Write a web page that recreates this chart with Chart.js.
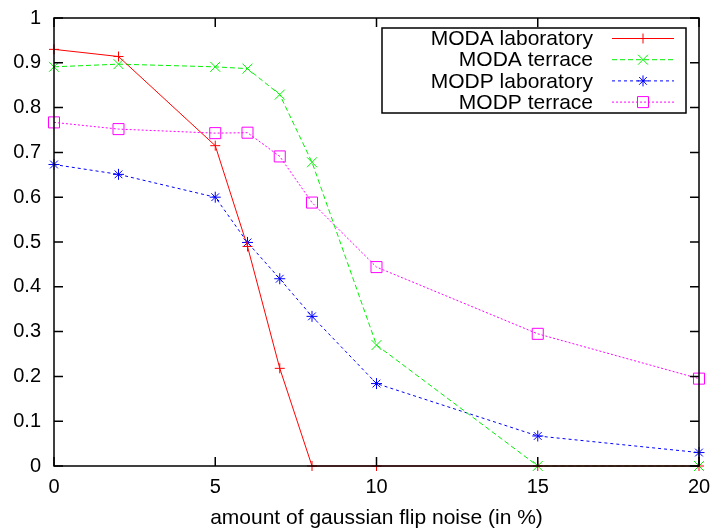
<!DOCTYPE html>
<html>
<head>
<meta charset="utf-8">
<script src="https://cdn.jsdelivr.net/npm/chart.js@4"></script>
<style>
  html, body { margin: 0; padding: 0; background: #fff; }
  #wrap { width: 715px; height: 531px; }
</style>
</head>
<body>
<div id="wrap"><canvas id="noiseChart"></canvas></div>
<script>
// noise level (x) and the four result series
const noiseLevels = [0, 2, 5, 6, 7, 8, 10, 15, 20];
const modaLaboratory = [0.93, 0.914, 0.715, 0.49, 0.218, 0, 0, 0, 0];
const modaTerrace = [0.891, 0.897, 0.891, 0.887, 0.829, 0.678, 0.27, 0, 0];
const modpLaboratory = [0.673, 0.651, 0.6, 0.499, 0.418, 0.334, 0.184, 0.067, 0.03];
const modpTerrace = [0.767, 0.752, 0.743, 0.744, 0.691, 0.588, 0.444, 0.295, 0.195];

const seriesLabels = ["MODA laboratory", "MODA terrace", "MODP laboratory", "MODP terrace"];
const xTicks = [0, 5, 10, 15, 20];
const yTicks = [0, 0.1, 0.2, 0.3, 0.4, 0.5, 0.6, 0.7, 0.8, 0.9, 1];

const FONT = "'Liberation Sans', Arial, sans-serif";

function toPoints(values) {
    return values.map((v, i) => ({ x: noiseLevels[i], y: v }));
}

const styles = [
    { color: "#ff0000", dash: [], point: "cross", radius: 5 },
    { color: "#00f000", dash: [5, 3], point: "crossRot", radius: 7 },
    { color: "#0000ff", dash: [3, 3], point: "star", radius: 5.5 },
    { color: "#ff00ff", dash: [2, 2], point: "rect", radius: 7.8 }
];

const allSeries = [modaLaboratory, modaTerrace, modpLaboratory, modpTerrace];

// frame, inward tick marks (mirrored) and gnuplot-like key
const framePlugin = {
    id: "framePlugin",
    afterDraw(chart) {
        const ctx = chart.ctx;
        const a = chart.chartArea;
        const xs = chart.scales.x;
        const ys = chart.scales.y;
        const tl = 9;
        ctx.save();
        ctx.strokeStyle = "#000";
        ctx.lineWidth = 1.5;
        ctx.setLineDash([]);
        ctx.beginPath();
        xTicks.forEach(t => {
            const px = xs.getPixelForValue(t);
            ctx.moveTo(px, a.bottom); ctx.lineTo(px, a.bottom - tl);
            ctx.moveTo(px, a.top); ctx.lineTo(px, a.top + tl);
        });
        yTicks.forEach(t => {
            const py = ys.getPixelForValue(t);
            ctx.moveTo(a.left, py); ctx.lineTo(a.left + tl, py);
            ctx.moveTo(a.right, py); ctx.lineTo(a.right - tl, py);
        });
        ctx.stroke();
        ctx.strokeRect(a.left, a.top, a.right - a.left, a.bottom - a.top);

        // key box
        const boxLeft = 382, boxTop = 28, boxRight = 686, boxBottom = 113;
        ctx.fillStyle = "#fff";
        ctx.fillRect(boxLeft, boxTop, boxRight - boxLeft, boxBottom - boxTop);
        ctx.strokeRect(boxLeft, boxTop, boxRight - boxLeft, boxBottom - boxTop);
        ctx.font = "21px " + FONT;
        ctx.textAlign = "right";
        ctx.textBaseline = "middle";
        seriesLabels.forEach((label, i) => {
            const y = 38.5 + i * 21.2;
            const s = styles[i];
            ctx.fillStyle = "#000";
            ctx.fillText(label, 593, y + 1);
            ctx.strokeStyle = s.color;
            ctx.lineWidth = 1;
            ctx.setLineDash(s.dash);
            ctx.beginPath();
            ctx.moveTo(612, y); ctx.lineTo(674, y);
            ctx.stroke();
            ctx.setLineDash([]);
            ctx.fillStyle = "rgba(0,0,0,0)";
            Chart.helpers.drawPoint(ctx, { pointStyle: s.point, radius: s.radius, borderWidth: 1 }, 643, y);
        });
        ctx.restore();
    }
};

const ctx = document.getElementById("noiseChart").getContext("2d");
const myChart = new Chart(ctx, {
    type: "line",
    data: {
        datasets: allSeries.map((values, i) => ({
            label: seriesLabels[i],
            data: toPoints(values),
            borderColor: styles[i].color,
            backgroundColor: "transparent",
            borderDash: styles[i].dash,
            borderWidth: 1,
            pointStyle: styles[i].point,
            pointRadius: styles[i].radius,
            pointBorderColor: styles[i].color,
            pointBorderWidth: 1,
            pointBackgroundColor: "transparent",
            fill: false,
            tension: 0,
            clip: false
        }))
    },
    options: {
        responsive: true,
        maintainAspectRatio: false,
        animation: false,
        layout: {
            padding: { top: 18, right: 16, bottom: 0, left: 0 }
        },
        scales: {
            x: {
                type: "linear",
                min: 0,
                max: 20,
                afterFit: s => {
                    s.height = 65;
                    s.paddingLeft = 0;
                    s.paddingRight = 0;
                },
                afterBuildTicks: s => { s.ticks = xTicks.map(v => ({ value: v })); },
                grid: { display: false, drawTicks: false },
                border: { display: false },
                ticks: {
                    color: "#000",
                    padding: 9,
                    maxRotation: 0,
                    font: { family: FONT, size: 20 }
                },
                title: {
                    display: true,
                    text: "amount of gaussian flip noise (in %)",
                    color: "#000",
                    font: { family: FONT, size: 21 },
                    padding: { top: 0, bottom: 0 }
                }
            },
            y: {
                type: "linear",
                min: 0,
                max: 1,
                afterFit: s => {
                    s.width = 54;
                    s.paddingTop = 0;
                    s.paddingBottom = 0;
                },
                afterBuildTicks: s => { s.ticks = yTicks.map(v => ({ value: v })); },
                grid: { display: false, drawTicks: false },
                border: { display: false },
                ticks: {
                    color: "#000",
                    padding: 13,
                    font: { family: FONT, size: 20 },
                    callback: v => String(+v.toFixed(1))
                }
            }
        },
        plugins: {
            legend: { display: false },
            tooltip: { enabled: false }
        }
    },
    plugins: [framePlugin]
});
</script>
</body>
</html>
